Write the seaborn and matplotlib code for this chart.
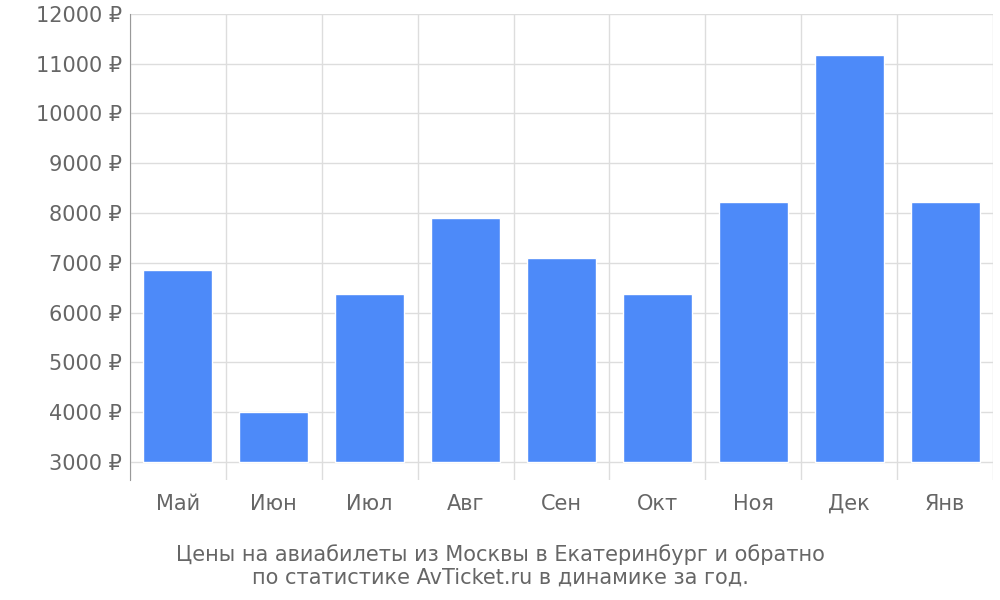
import matplotlib
matplotlib.use("Agg")
import matplotlib.pyplot as plt
import seaborn as sns
import numpy as np

months = ["Май", "Июн", "Июл", "Авг", "Сен", "Окт", "Ноя", "Дек", "Янв"]
prices = [6850, 4000, 6370, 7900, 7100, 6370, 8230, 11180, 8230]
base = 3000

sns.set_style("white")
plt.rcParams['font.family'] = ['DejaVu Sans']

fig = plt.figure(figsize=(10, 6), dpi=100)
ax = fig.add_axes([0.13, 0.2, 0.863, 0.777])

heights = np.array(prices) - base
sns.barplot(x=months, y=heights, bottom=base, color="#4d8af9", saturation=1,
            width=0.72, ax=ax, zorder=3)

ax.set_ylim(2640, 12000)
ax.set_xlim(-0.5, len(months) - 0.5)
yt = np.arange(3000, 12001, 1000)
ax.set_yticks(yt)
ax.set_yticklabels([f"{v} ₽" for v in yt])
for v in yt:
    ax.axhline(v, color="#dddddd", lw=1, zorder=1)
for i in range(len(months) + 1):
    ax.axvline(i - 0.5, color="#dddddd", lw=1, zorder=1)

for s in ["top", "right", "bottom"]:
    ax.spines[s].set_visible(False)
ax.spines["left"].set_color("#999999")
ax.tick_params(axis="both", colors="#666666", labelsize=15, length=0, pad=6)
ax.tick_params(axis="x", pad=10)

fig.text(0.5, 0.02, "Цены на авиабилеты из Москвы в Екатеринбург и обратно\nпо статистике AvTicket.ru в динамике за год.",
         ha="center", va="bottom", color="#666666", fontsize=15, linespacing=1.2)

fig.savefig("out.png", dpi=100)
